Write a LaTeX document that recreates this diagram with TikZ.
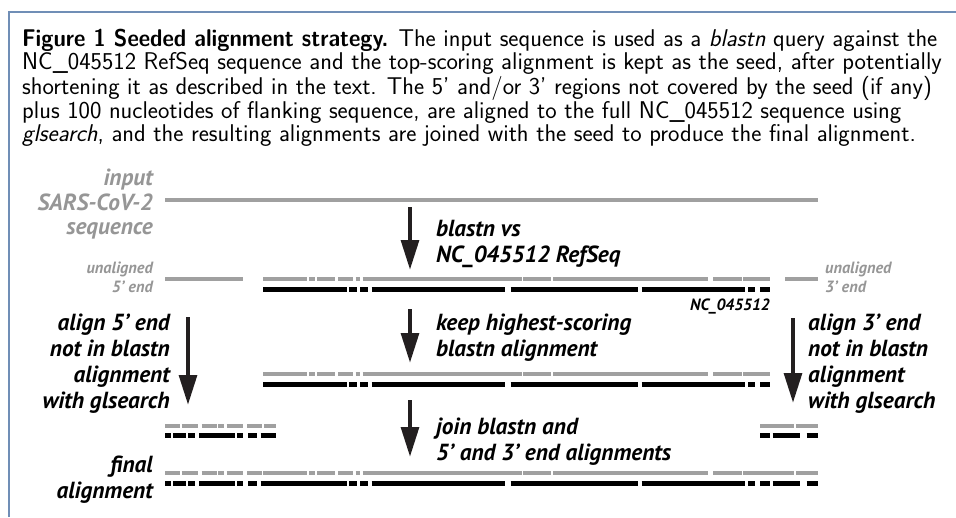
\documentclass[tikz,border=0pt]{standalone}
\usepackage{fontspec}
\newfontfamily\labfont{PT Sans}
\newfontfamily\capboldfont[FakeStretch=0.915]{lmsans10-bold.otf}
\usetikzlibrary{arrows.meta}
\definecolor{framecol}{RGB}{112,142,182}
\definecolor{seqgray}{RGB}{160,160,160}
\definecolor{labgray}{RGB}{150,150,150}
\definecolor{arrowcol}{RGB}{35,31,32}

% dashed sequence runs: each entry is start/end along x
\def\midgray{263/306.7,309.3/315,317.3/335,338.3/352.7,355.7/360,362.7/521.7,523.3/551,553.3/708,713/742,743/770}
\def\midblack{263/347,349/357,360/368,371.7/505,510.7/638.3,641.7/745,748/755,760/770}
\def\leftgray{165/180,181.7/198.3,201.7/216.7,218.3/224,226.7/243.3,247.3/261.7,264/276}
\def\leftblack{165/170.7,173.3/186,188.3/195,199.3/235,237.3/243.3,248.3/257.3,260.7/276}
\def\rightgray{760/794.3,796/818.3}
\def\rightblack{760/770,772.7/800,806.7/818.3}
\newcommand\grayrun[2]{\foreach \a/\b in #2 {\draw[graybar] (\a,#1) -- (\b,#1);}}
\newcommand\blackrun[2]{\foreach \a/\b in #2 {\draw[blackbar] (\a,#1) -- (\b,#1);}}

\begin{document}
\begin{tikzpicture}[x=1pt,y=-1pt,
  graybar/.style={draw=seqgray,line width=4pt},
  blackbar/.style={draw=black,line width=5pt},
  bigarrow/.style={draw=arrowcol,line width=4.5pt,-{Triangle[length=30pt,width=17.5pt]}},
  caption/.style={font=\sffamily\fontsize{24.2}{21.3}\selectfont,align=left,inner sep=0pt,anchor=base west},
  steplabel/.style={font=\labfont\bfseries\itshape\fontsize{23.3}{26}\selectfont,inner sep=0pt},
  seqlabel/.style={font=\labfont\bfseries\itshape\fontsize{23.3}{24.5}\selectfont,text=labgray,inner sep=0pt},
  endlabel/.style={font=\labfont\bfseries\itshape\fontsize{16.3}{19}\selectfont,text=labgray,inner sep=0pt},
  reflabel/.style={font=\labfont\bfseries\itshape\fontsize{16.3}{19}\selectfont,inner sep=0pt}]
\useasboundingbox (0,0) rectangle (956,517);

% frame
\draw[framecol,line width=1.3pt] (9,517) -- (9,12) -- (956,12);

% caption (anchored at the baseline of its last line)
\node[caption] (cap) at (22,141) {{\capboldfont Figure 1 Seeded alignment strategy.} The input sequence is used as a \textit{blastn} query against the\\
NC\_045512 RefSeq sequence and the top-scoring alignment is kept as the seed, after potentially\\
shortening it as described in the text. The 5’ and/or 3’ regions not covered by the seed (if any)\\
plus 100 nucleotides of flanking sequence, are aligned to the full NC\_045512 sequence using\\
\textit{glsearch}, and the resulting alignments are joined with the seed to produce the final alignment.};

% input sequence
\node[seqlabel,align=right,anchor=base east] (inlab) at (153,234.5) {input\\SARS-CoV-2\\sequence};
\draw[graybar] (165,200) -- (818,200);

% blastn hit with unaligned ends
\node[endlabel,align=right,anchor=base east] (u5) at (153,292) {unaligned\\5’ end};
\node[endlabel,align=left,anchor=base west] (u3) at (825,292) {unaligned\\3’ end};
\draw[graybar] (165,279) -- (243,279);
\draw[graybar] (785,279) -- (818,279);
\grayrun{279}{\midgray}
\blackrun{289}{\midblack}
\node[reflabel,anchor=base east] (ref) at (770,310) {NC\_045512};

% kept seed alignment
\grayrun{374.3}{\midgray}
\blackrun{384.3}{\midblack}

% glsearch-aligned ends
\grayrun{425.7}{\leftgray}
\blackrun{435}{\leftblack}
\grayrun{426}{\rightgray}
\blackrun{435}{\rightblack}

% final joined alignment
\node[steplabel,align=right,anchor=base east] (fin) at (153,498) {final\\alignment};
\grayrun{473.3}{\leftgray}
\grayrun{473.3}{\midgray}
\grayrun{473.3}{\rightgray}
\blackrun{483.3}{\leftblack}
\blackrun{483.3}{\midblack}
\blackrun{483.3}{\rightblack}

% step labels (anchored at the baseline of their last line)
\node[steplabel,align=left,anchor=base west] (s1) at (436,262) {blastn vs\\NC\_045512 RefSeq};
\node[steplabel,align=left,anchor=base west] (s2) at (436,356) {keep highest-scoring\\blastn alignment};
\node[steplabel,align=left,anchor=base west] (s3) at (436,460) {join blastn and\\5’ and 3’ end alignments};
\node[steplabel,align=right,anchor=base east] (s5) at (170,408) {align 5’ end\\not in blastn\\alignment\\with glsearch};
\node[steplabel,align=left,anchor=base west] (s3p) at (808,408) {align 3’ end\\not in blastn\\alignment\\with glsearch};

% step arrows
\coordinate (a1s) at (410,207);   \coordinate (a1e) at (410,270);
\coordinate (a2s) at (410,309);   \coordinate (a2e) at (410,363);
\coordinate (a3s) at (410,400);   \coordinate (a3e) at (410,457);
\coordinate (a5s) at (188,317);   \coordinate (a5e) at (188,405);
\coordinate (a3ps) at (793,318);  \coordinate (a3pe) at (793,403);
\draw[bigarrow] (a1s) -- (a1e);
\draw[bigarrow] (a2s) -- (a2e);
\draw[bigarrow] (a3s) -- (a3e);
\draw[bigarrow] (a5s) -- (a5e);
\draw[bigarrow] (a3ps) -- (a3pe);
\end{tikzpicture}
\end{document}
